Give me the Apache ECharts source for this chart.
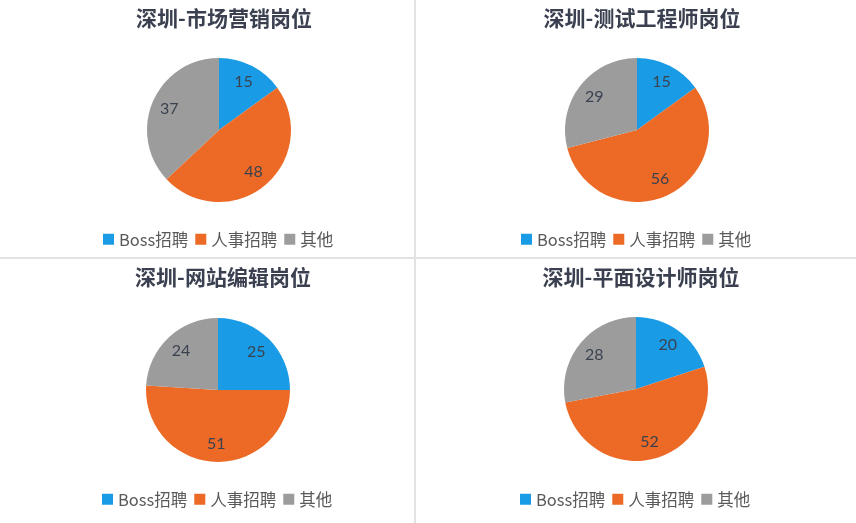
<!DOCTYPE html>
<html>
<head>
<meta charset="utf-8">
<title>深圳岗位招聘渠道</title>
<script src="https://cdn.jsdelivr.net/npm/echarts@6/dist/echarts.min.js"></script>
<style>
  html, body { margin: 0; padding: 0; background: #fff; }
  #chart { width: 856px; height: 523px; }
</style>
</head>
<body>
<div id="chart"></div>
<script>
// 数据
const channels = ['Boss招聘', '人事招聘', '其他'];
const titles = ['深圳-市场营销岗位', '深圳-测试工程师岗位', '深圳-网站编辑岗位', '深圳-平面设计师岗位'];
const marketing = [15, 48, 37];
const tester = [15, 56, 29];
const editor = [25, 51, 24];
const designer = [20, 52, 28];
const allValues = [marketing, tester, editor, designer];

const colors = ['#1a9be6', '#ec6a26', '#9c9c9c'];
const centers = [[219, 130], [637, 130], [218, 390], [636, 389]];
const R = 72;

const chart = echarts.init(document.getElementById('chart'));

const series = [];
const titleList = [];
const legendList = [];

allValues.forEach((vals, i) => {
    const data = vals.map((v, k) => ({ name: channels[k], value: v, itemStyle: { color: colors[k] } }));
    // 实际的饼图
    series.push({
        type: 'pie',
        center: centers[i],
        radius: [0, R],
        startAngle: 90,
        clockwise: true,
        label: { show: false },
        labelLine: { show: false },
        emphasis: { scale: false },
        data: data
    });
    // 透明的饼图，只用来把数字标签放到 0.7r 附近
    series.push({
        type: 'pie',
        center: centers[i],
        radius: [0, R * 1.42],
        startAngle: 90,
        clockwise: true,
        silent: true,
        itemStyle: { color: 'rgba(0,0,0,0)' },
        label: {
            show: true,
            position: 'inside',
            formatter: '{c}',
            color: '#3a4250',
            fontSize: 16,
            fontFamily: 'Lato, "Noto Sans", sans-serif'
        },
        labelLine: { show: false },
        data: vals.map((v, k) => ({ name: channels[k] + ' ', value: v }))
    });
    titleList.push({
        text: titles[i],
        left: centers[i][0],
        top: i < 2 ? 3 : 262,
        textAlign: 'center',
        textStyle: {
            fontFamily: '"Noto Sans CJK SC", sans-serif',
            fontWeight: 'bold',
            fontSize: 21,
            color: '#3a4050'
        }
    });
    legendList.push({
        data: channels,
        left: centers[i][0] - 121,
        top: i < 2 ? 226 : 486,
        itemWidth: 11,
        itemHeight: 11,
        itemGap: 7,
        icon: 'rect',
        selectedMode: false,
        textStyle: {
            fontFamily: '"Noto Sans CJK SC", sans-serif',
            fontSize: 16.5,
            color: '#595959',
            padding: [0, 0, 0, 0]
        }
    });
});

chart.setOption({
    backgroundColor: '#fff',
    animation: false,
    title: titleList,
    legend: legendList,
    tooltip: { show: false },
    graphic: [
        { type: 'rect', shape: { x: 414, y: 0, width: 2, height: 523 }, style: { fill: '#e2e2e2' } },
        { type: 'rect', shape: { x: 0, y: 257, width: 856, height: 2 }, style: { fill: '#e2e2e2' } }
    ],
    series: series
});
</script>
</body>
</html>
